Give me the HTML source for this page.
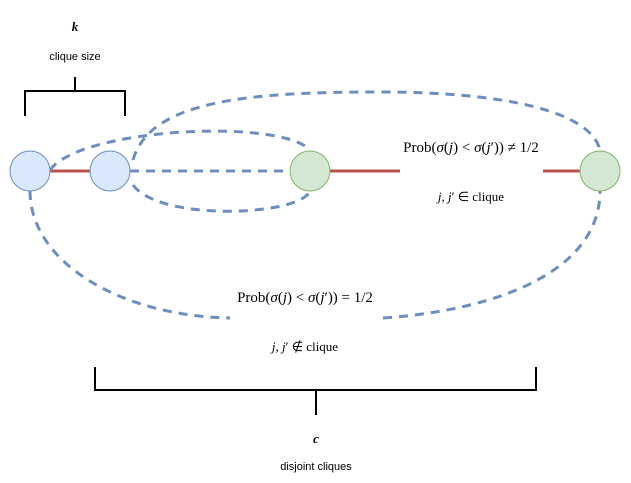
<!DOCTYPE html>
<html><head><meta charset="utf-8"><style>
body{margin:0;background:#fff;}
svg{display:block;}
.m{font-family:"Liberation Serif",serif;font-size:13px;fill:#000;}
.p{font-size:15px;}
.s{font-family:"Liberation Sans",sans-serif;font-size:11px;fill:#000;}
</style></head><body>
<svg width="631" height="483" viewBox="0 0 631 483">
<g stroke="#b85450" stroke-width="3">
<line x1="50" y1="171" x2="90" y2="171"/>
<line x1="330" y1="171" x2="400" y2="171"/>
<line x1="543" y1="171" x2="580" y2="171"/>
</g>
<g fill="none" stroke="#6c8ebf" stroke-width="3" stroke-dasharray="9 7">
<path d="M50,170 C80,128 280,118 310,150"/>
<path d="M133,185 C160,222 300,216 310,191"/>
<line x1="130" y1="171" x2="290" y2="171"/>
<path d="M133,160 C150,100 250,92 380,92 C500,92 590,110 600,150"/>
<path d="M30,191 C30,262 120,316 230,318"/>
<path d="M383,318 C500,310 600,270 600,191"/>
</g>
<circle cx="30" cy="171" r="20" fill="#dae8fc" stroke="#6c8ebf"/>
<circle cx="110" cy="171" r="20" fill="#dae8fc" stroke="#6c8ebf"/>
<circle cx="310" cy="171" r="20" fill="#d5e8d4" stroke="#82b366"/>
<circle cx="600" cy="171" r="20" fill="#d5e8d4" stroke="#82b366"/>
<g fill="none" stroke="#000" stroke-width="2">
<path d="M25,116 V91 H125 V116 M75,91 V77"/>
<path d="M95,367 V390 H536 V367 M316,390 V415"/>
</g>
<text x="75" y="31" class="m" font-style="italic" font-weight="bold" text-anchor="middle">k</text>
<text x="75" y="60" class="s" text-anchor="middle">clique size</text>
<text x="316" y="443" class="m" font-style="italic" font-weight="bold" text-anchor="middle">c</text>
<text x="316" y="470" class="s" text-anchor="middle">disjoint cliques</text>
<text x="471" y="152" class="m p" text-anchor="middle">Prob(<tspan font-style="italic">σ</tspan>(<tspan font-style="italic">j</tspan>) &lt; <tspan font-style="italic">σ</tspan>(<tspan font-style="italic">j</tspan>′)) ≠ 1/2</text>
<text x="471" y="201" class="m" text-anchor="middle"><tspan font-style="italic">j, j</tspan>′ ∈ clique</text>
<text x="305" y="302" class="m p" text-anchor="middle">Prob(<tspan font-style="italic">σ</tspan>(<tspan font-style="italic">j</tspan>) &lt; <tspan font-style="italic">σ</tspan>(<tspan font-style="italic">j</tspan>′)) = 1/2</text>
<text x="305" y="351" class="m" text-anchor="middle"><tspan font-style="italic">j, j</tspan>′ ∉ clique</text>
</svg>
</body></html>
